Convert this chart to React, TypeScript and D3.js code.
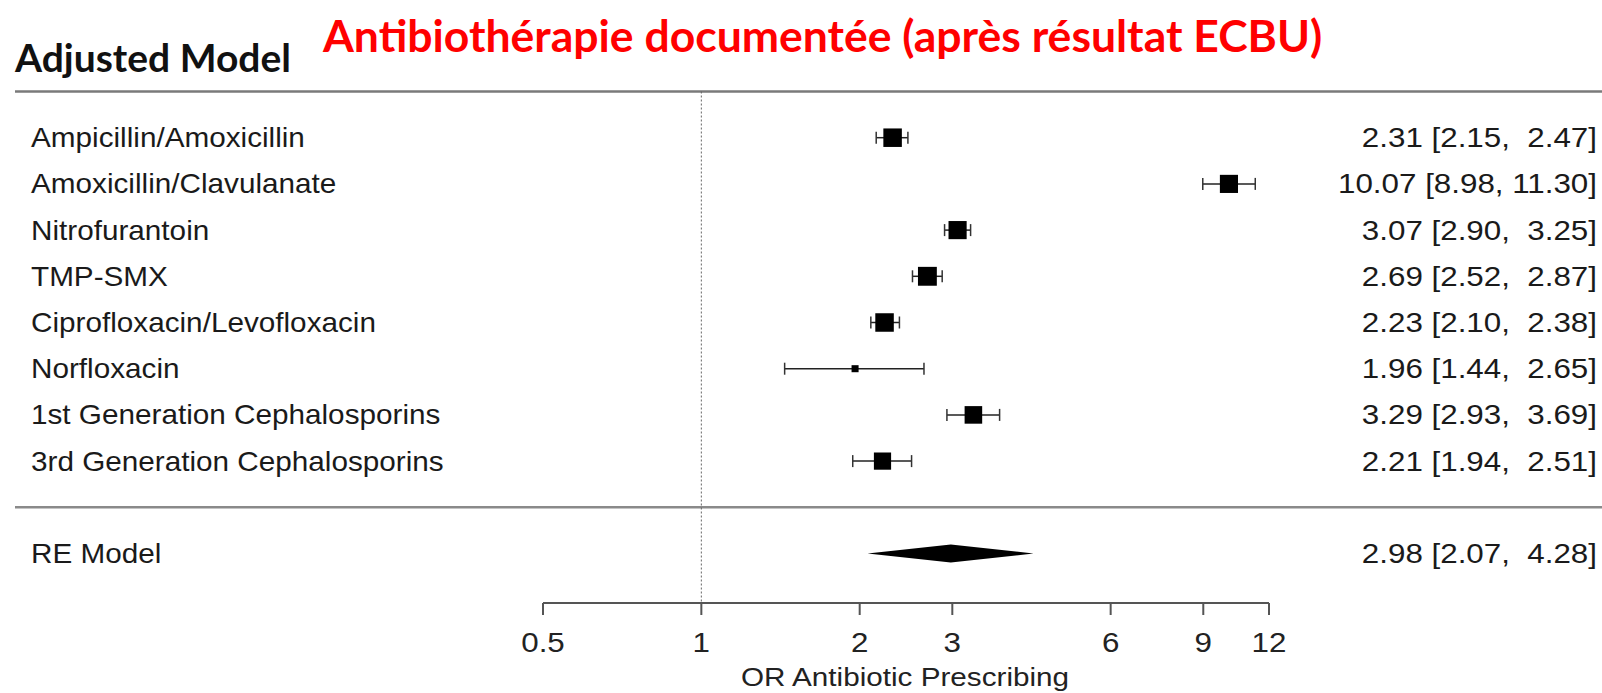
import React from "react";
import * as d3 from "d3";

const studyLabels = [
  "Ampicillin/Amoxicillin",
  "Amoxicillin/Clavulanate",
  "Nitrofurantoin",
  "TMP-SMX",
  "Ciprofloxacin/Levofloxacin",
  "Norfloxacin",
  "1st Generation Cephalosporins",
  "3rd Generation Cephalosporins",
];
const estimates = [2.31, 10.07, 3.07, 2.69, 2.23, 1.96, 3.29, 2.21];
const lowerCI = [2.15, 8.98, 2.9, 2.52, 2.1, 1.44, 2.93, 1.94];
const upperCI = [2.47, 11.3, 3.25, 2.87, 2.38, 2.65, 3.69, 2.51];
const markerWeights = [1.0, 0.98, 0.98, 1.02, 1.0, 0.38, 0.95, 0.93];

const reLabel = "RE Model";
const reEstimate = 2.98;
const reLower = 2.07;
const reUpper = 4.28;

const tickValues = [0.5, 1, 2, 3, 6, 9, 12];
const tickLabels = ["0.5", "1", "2", "3", "6", "9", "12"];

const xAxisLabel = "OR Antibiotic Prescribing";
const panelTitle = "Adjusted Model";
const mainTitle = "Antibiothérapie documentée (après résultat ECBU)";

const W = 1602;
const H = 693;
const FONT = "'Liberation Sans', Arial, Helvetica, sans-serif";
const FS = 27;

function STxt({ x, y, anchor = "start", children, size = FS, sx = 1.1, fill = "#1a1a1a" }: any) {
  return (
    <text
      transform={`translate(${x},${y}) scale(${sx},1)`}
      textAnchor={anchor}
      fontFamily={FONT}
      fontSize={size}
      fill={fill}
      style={{ whiteSpace: "pre" }}
    >
      {children}
    </text>
  );
}

const fmt = (v: number, w: number) => {
  const s = v.toFixed(2);
  return s.length < w ? " ".repeat(w - s.length) + s : s;
};

export default function App() {
  const k = studyLabels.length;
  const x = d3.scaleLog().domain([0.5, 12]).range([543, 1269]);
  const y = d3.scaleLinear().domain([k + 1, -1]).range([91.5, 553.5]);
  const size = d3.scaleLinear().domain([0, 1]).range([0, 18.5]);
  const axisY = 603;
  const capH = 6;
  const textDy = 9.5;
  const rightX = 1597;

  const diamond = d3.line()([
    [x(reLower), y(-1)],
    [x(reEstimate), y(-1) - 9],
    [x(reUpper), y(-1)],
    [x(reEstimate), y(-1) + 9],
  ]) + "Z";

  return (
    <svg width={W} height={H} style={{ position: "absolute", left: 0, top: 0, background: "#fff" }}>
      <rect x={0} y={0} width={W} height={H} fill="#fff" />
      {/* titles */}
      <text x={15} y={72} fontFamily="Lato, 'Open Sans', sans-serif" fontWeight={700} fontSize={39} fill="#111">
        {panelTitle}
      </text>
      <text x={323} y={52} fontFamily="Lato, 'Open Sans', sans-serif" fontWeight={700} fontSize={44.5} fill="#ff0000">
        {mainTitle}
      </text>

      {/* horizontal rules */}
      <line x1={15} x2={W} y1={y(k + 1)} y2={y(k + 1)} stroke="#7a7a7a" strokeWidth={2.5} />
      <line x1={15} x2={W} y1={y(0)} y2={y(0)} stroke="#8a8a8a" strokeWidth={2.5} />

      {/* reference line */}
      <line x1={x(1)} x2={x(1)} y1={y(k + 1)} y2={axisY} stroke="#666" strokeWidth={1} strokeDasharray="2,2" />

      {/* studies */}
      {studyLabels.map((lab, i) => {
        const yy = y(k - i);
        const s = size(markerWeights[i]);
        return (
          <g key={lab}>
            <STxt x={31} y={yy + textDy}>{lab}</STxt>
            <line x1={x(lowerCI[i])} x2={x(upperCI[i])} y1={yy} y2={yy} stroke="#222" strokeWidth={1.5} />
            <line x1={x(lowerCI[i])} x2={x(lowerCI[i])} y1={yy - capH} y2={yy + capH} stroke="#333" strokeWidth={1.5} />
            <line x1={x(upperCI[i])} x2={x(upperCI[i])} y1={yy - capH} y2={yy + capH} stroke="#333" strokeWidth={1.5} />
            <rect x={x(estimates[i]) - s / 2} y={yy - s / 2} width={s} height={s} fill="#000" />
            <STxt x={rightX} y={yy + textDy} anchor="end" size={27.5} sx={1.14}>
              {`${fmt(estimates[i], 5)} [${fmt(lowerCI[i], 4)}, ${fmt(upperCI[i], 5)}]`}
            </STxt>
          </g>
        );
      })}

      {/* RE model */}
      <STxt x={31} y={y(-1) + textDy}>{reLabel}</STxt>
      <path d={diamond} fill="#000" />
      <STxt x={rightX} y={y(-1) + textDy} anchor="end" size={27.5} sx={1.14}>
        {`${fmt(reEstimate, 5)} [${fmt(reLower, 4)}, ${fmt(reUpper, 5)}]`}
      </STxt>

      {/* axis */}
      <line x1={x(0.5)} x2={x(12)} y1={axisY} y2={axisY} stroke="#555" strokeWidth={2} />
      {tickValues.map((t, i) => (
        <g key={t}>
          <line x1={x(t)} x2={x(t)} y1={axisY} y2={axisY + 12} stroke="#555" strokeWidth={2} />
          <STxt x={x(t)} y={652} anchor="middle" size={28} sx={1.12} fill="#222">{tickLabels[i]}</STxt>
        </g>
      ))}
      <STxt x={905} y={686} anchor="middle" size={26.5} sx={1.12} fill="#222">{xAxisLabel}</STxt>
    </svg>
  );
}
